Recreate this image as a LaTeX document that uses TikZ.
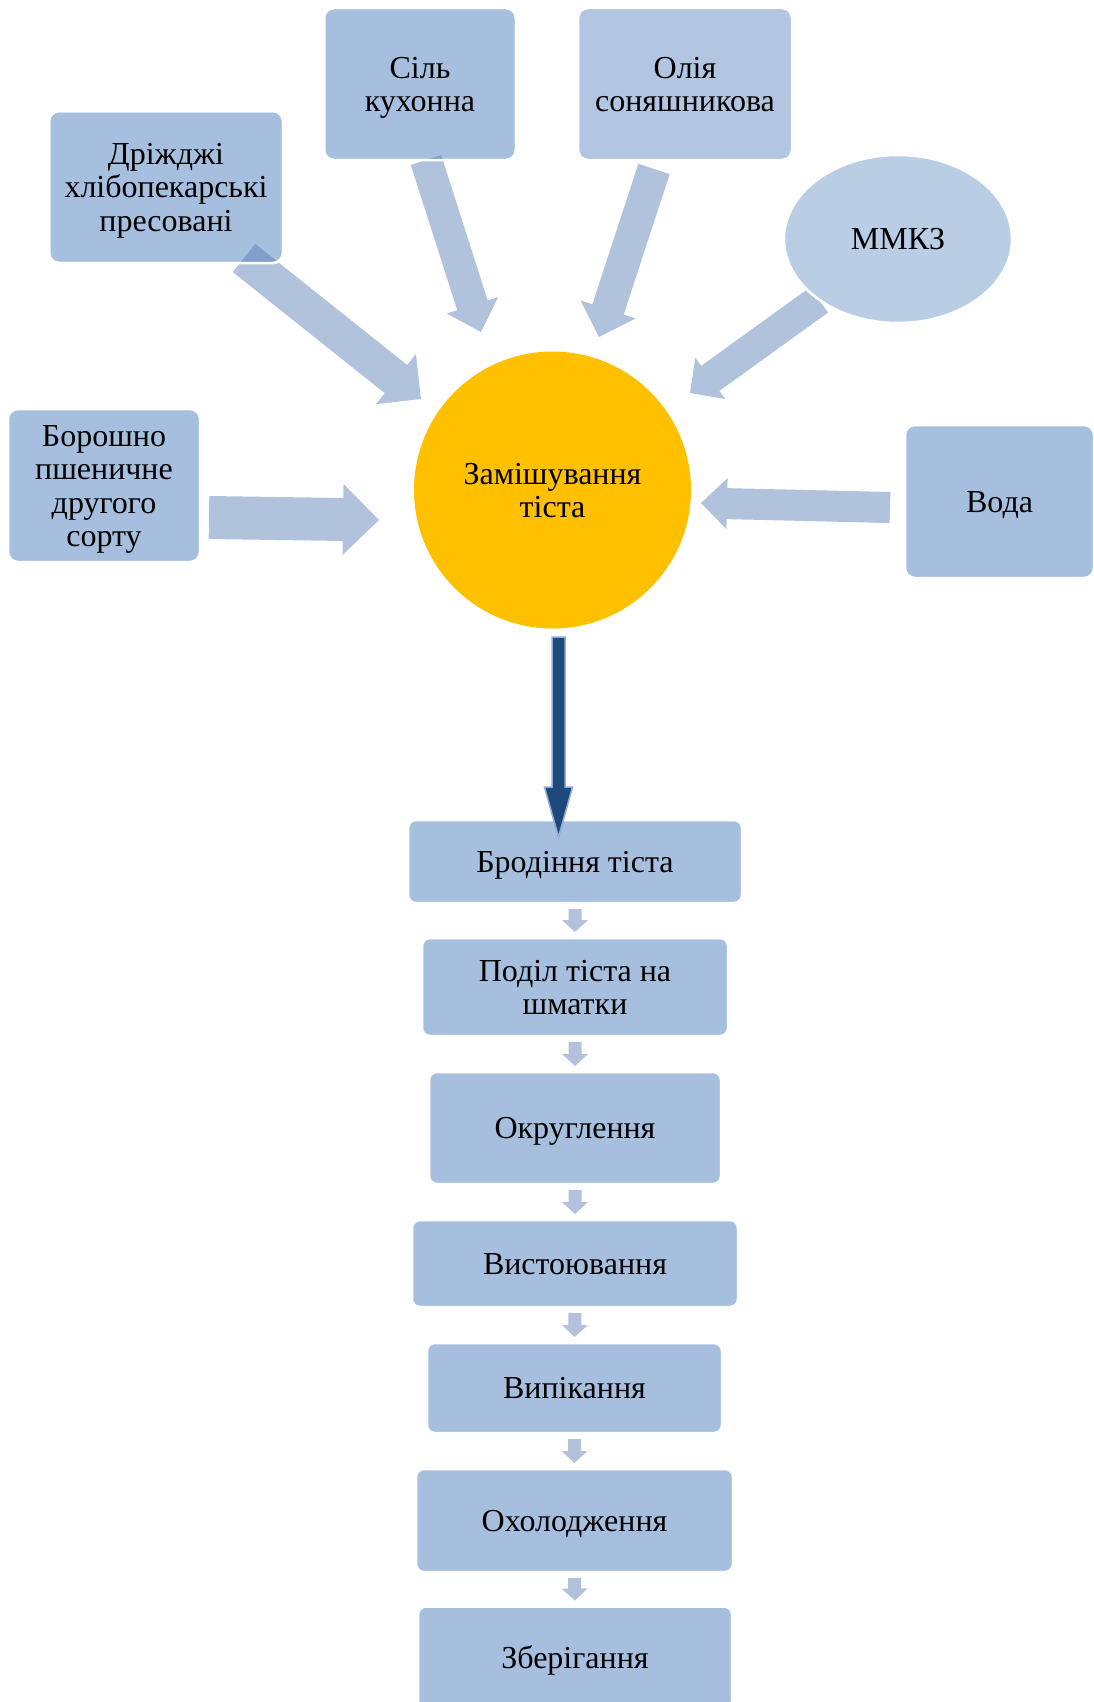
\documentclass[tikz,border=0pt]{standalone}
\usepackage{fontspec}
\setmainfont{Liberation Serif}
\usetikzlibrary{calc,shapes.geometric}
\definecolor{boxA}{HTML}{A7BFDE}
\definecolor{boxB}{HTML}{B2C6E2}
\definecolor{boxC}{HTML}{B9CDE5}
\definecolor{gold}{HTML}{FFC000}
\definecolor{arrowbase}{RGB}{85,122,181}
\definecolor{smallarr}{HTML}{B2C2DD}
\definecolor{navy}{HTML}{1F497D}
\definecolor{navyedge}{HTML}{8FAADC}

% #1 style, #2 tail, #3 tip, #4 half shaft width, #5 half head width, #6 head length
\newcommand{\blockarrow}[6]{%
  \path ($(#3)!#6!(#2)$) coordinate (bac);
  \path[#1] ($(#2)!#4!90:(#3)$) -- ($(bac)!#4!90:(#3)$) -- ($(bac)!#5!90:(#3)$) -- (#3)
     -- ($(bac)!#5!-90:(#3)$) -- ($(bac)!#4!-90:(#3)$) -- ($(#2)!#4!-90:(#3)$) -- cycle;
}
\newcommand{\topS}{\rule{0pt}{0.891em}}
\newcommand{\botS}{\rule[-0.216em]{0pt}{0.216em}}

\begin{document}
\begin{tikzpicture}[x=1pt,y=-1pt,
  txt/.style={font=\fontsize{32}{33.5}\selectfont, align=center, inner sep=0pt, outer sep=0pt},
  box/.style={txt, rectangle, rounded corners=10pt, draw=white, line width=2.5pt, fill=boxA},
  flow/.style={box, rounded corners=8pt},
  bigarrow/.style={fill=arrowbase, fill opacity=0.46},
  smallarrow/.style={fill=smallarr},
  mainarrow/.style={fill=navy, draw=navyedge, line width=1.5pt},
  border/.style={draw=white, line width=2.5pt, rounded corners=10pt}
]
\useasboundingbox (0,0) rectangle (1094,1702);
\clip (0,0) rectangle (1094,1702);

% central circle
\node[txt, circle, fill=gold, minimum size=277pt] (mix) at (552.5,490) {\topS Замішування\\тіста\botS};

% ingredient boxes
\node[box, minimum width=234pt, minimum height=152pt] (drz) at (166,187) {\topS Дріжджі\\хлібопекарські\\пресовані\botS};
\node[box, minimum width=192pt, minimum height=152pt] (sil) at (420,84) {\topS Сіль\\кухонна\botS};
\node[box, fill=boxB, minimum width=214pt, minimum height=152pt] (oliya) at (685,84) {\topS Олія\\соняшникова\botS};
\node[box, minimum width=192pt, minimum height=153pt] (bor) at (104,485.5) {\topS Борошно\\пшеничне\\другого\\сорту\botS};
\node[box, minimum width=189pt, minimum height=153pt] (voda) at (999.5,501.5) {\topS Вода\botS};

% process boxes
\node[flow, minimum width=334pt, minimum height=83pt] (brod) at (575,861.5) {\topS Бродіння тіста\botS};
\node[flow, minimum width=306pt, minimum height=98pt] (podil) at (575,987) {\topS Поділ тіста на\\шматки\botS};
\node[flow, minimum width=292pt, minimum height=112pt] (okr) at (575,1128) {\topS Округлення\botS};
\node[flow, minimum width=326pt, minimum height=87pt] (vyst) at (575,1263.5) {\topS Вистоювання\botS};
\node[flow, minimum width=295pt, minimum height=90pt] (vyp) at (574.5,1388) {\topS Випікання\botS};
\node[flow, minimum width=317pt, minimum height=103pt] (okh) at (574.5,1520.5) {\topS Охолодження\botS};
\node[flow, minimum width=314pt, minimum height=103pt] (zber) at (575,1658) {\topS Зберігання\botS};

% big block arrows into the circle
\coordinate (drzT) at (244,258);   \coordinate (drzH) at (421,399);
\blockarrow{bigarrow}{drzT}{drzH}{18pt}{32pt}{32pt}
\coordinate (silT) at (426,160);   \coordinate (silH) at (481,332);
\blockarrow{bigarrow}{silT}{silH}{16pt}{27pt}{28pt}
\coordinate (olT) at (654,169);    \coordinate (olH) at (599,337);
\blockarrow{bigarrow}{olT}{olH}{16.5pt}{29pt}{29pt}
\coordinate (mT) at (819,300);     \coordinate (mH) at (690,393);
\blockarrow{bigarrow}{mT}{mH}{15.5pt}{25.5pt}{25pt}
\coordinate (borT) at (209,517.5); \coordinate (borH) at (379,520);
\blockarrow{bigarrow}{borT}{borH}{21.5pt}{35.5pt}{36pt}
\coordinate (vodaT) at (890,507.5); \coordinate (vodaH) at (701,503);
\blockarrow{bigarrow}{vodaT}{vodaH}{15.5pt}{25.5pt}{26pt}

% white borders over arrow tails
\path[border] (drz.south west) rectangle (drz.north east);
\path[border] (sil.south west) rectangle (sil.north east);

% ellipse
\node[txt, ellipse, fill=boxC, draw=white, line width=2.5pt, minimum width=228pt, minimum height=168pt] (mmkz) at (898,239) {\topS ММКЗ\botS};

% main dark arrow
\coordinate (mainT) at (558.5,637); \coordinate (mainH) at (558.5,837);
\blockarrow{mainarrow}{mainT}{mainH}{6.5pt}{14pt}{50pt}

% small arrows between process steps
\foreach \a/\b in {brod/podil, podil/okr, okr/vyst, vyst/vyp, vyp/okh, okh/zber} {
  \coordinate (sT) at ($(\a.south)+(0,6)$);
  \coordinate (sH) at ($(\b.north)+(0,-6)$);
  \blockarrow{smallarrow}{sT}{sH}{6.5pt}{13pt}{12pt}
}
\end{tikzpicture}
\end{document}
